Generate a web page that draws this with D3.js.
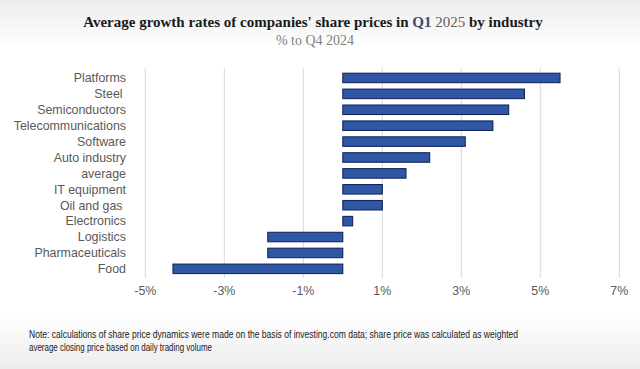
<!DOCTYPE html>
<html>
<head>
<meta charset="utf-8">
<script src="https://cdn.jsdelivr.net/npm/d3@7"></script>
<style>
  body { margin: 0; background: #fff; }
  svg { display: block; }
</style>
</head>
<body>
<svg id="chart" width="640" height="369"></svg>
<script>
const industries = ["Platforms", "Steel ", "Semiconductors", "Telecommunications", "Software", "Auto industry",
  "average", "IT equipment", "Oil and gas ", "Electronics", "Logistics", "Pharmaceuticals", "Food"];
const growth = [5.5, 4.6, 4.2, 3.8, 3.1, 2.2, 1.6, 1.0, 1.0, 0.25, -1.9, -1.9, -4.3];
const tickValues = [-5, -3, -1, 1, 3, 5, 7];

const svg = d3.select("#chart");
const width = +svg.attr("width");
const height = +svg.attr("height");

// background: soft grey fade at top and bottom
const defs = svg.append("defs");
const bg = defs.append("linearGradient").attr("id", "bg").attr("x1", 0).attr("y1", 0).attr("x2", 0).attr("y2", 1);
bg.append("stop").attr("offset", "0%").attr("stop-color", "#ececec");
bg.append("stop").attr("offset", "13%").attr("stop-color", "#ffffff");
bg.append("stop").attr("offset", "85%").attr("stop-color", "#ffffff");
bg.append("stop").attr("offset", "100%").attr("stop-color", "#ececec");
svg.append("rect").attr("width", width).attr("height", height).attr("fill", "url(#bg)");

const x = d3.scaleLinear().domain([-5, 7]).range([145.3, 619.3]);
const y = d3.scaleBand().domain(industries).range([70, 276.8]).paddingInner(0.4).paddingOuter(0.2);

// gridlines
svg.append("g")
  .selectAll("line")
  .data(tickValues)
  .join("line")
  .attr("x1", d => x(d)).attr("x2", d => x(d))
  .attr("y1", 68).attr("y2", 278)
  .attr("stroke", "#d9d9d9")
  .attr("stroke-width", 1);

// bars
svg.append("g")
  .selectAll("rect")
  .data(industries)
  .join("rect")
  .attr("x", (d, i) => x(Math.min(0, growth[i])))
  .attr("y", d => y(d))
  .attr("width", (d, i) => Math.abs(x(growth[i]) - x(0)))
  .attr("height", y.bandwidth())
  .attr("fill", "#3056a6")
  .attr("stroke", "#0e1f4f")
  .attr("stroke-width", 1);

// category labels
svg.append("g")
  .selectAll("text")
  .data(industries)
  .join("text")
  .attr("x", 126)
  .attr("y", d => y(d) + y.bandwidth() / 2)
  .attr("dy", "0.35em")
  .attr("text-anchor", "end")
  .attr("font-family", "Liberation Sans, Arial, sans-serif")
  .attr("font-size", 12.4)
  .attr("fill", "#595959")
  .style("white-space", "pre")
  .text(d => d);

// x tick labels
svg.append("g")
  .selectAll("text")
  .data(tickValues)
  .join("text")
  .attr("x", d => x(d))
  .attr("y", 295)
  .attr("text-anchor", "middle")
  .attr("font-family", "Liberation Sans, Arial, sans-serif")
  .attr("font-size", 12.4)
  .attr("fill", "#595959")
  .text(d => `${d}%`);

// title
const title = svg.append("text")
  .attr("x", 313).attr("y", 27)
  .attr("text-anchor", "middle")
  .attr("font-family", "Liberation Serif, DejaVu Serif, serif")
  .attr("font-size", 15)
  .attr("font-weight", "bold")
  .attr("fill", "#1a1a1a");
title.append("tspan").text("Average growth rates of companies' share prices in ");
title.append("tspan").attr("fill", "#3a4d68").text("Q1");
title.append("tspan").attr("fill", "#5e5e5e").attr("font-weight", "normal").text(" 2025");
title.append("tspan").text(" by industry");

svg.append("text")
  .attr("x", 315).attr("y", 45)
  .attr("text-anchor", "middle")
  .attr("font-family", "Liberation Serif, DejaVu Serif, serif")
  .attr("font-size", 14)
  .attr("fill", "#7f7f7f")
  .text("% to Q4 2024");

// note
const note = [
  "Note: calculations of share price dynamics were made on the basis of investing.com data; share price was calculated as weighted",
  "average closing price based on daily trading volume"
];
const noteLen = [489, 183];
svg.append("g")
  .selectAll("text")
  .data(note)
  .join("text")
  .attr("x", 29)
  .attr("y", (d, i) => 338 + i * 13)
  .attr("font-family", "Liberation Sans, Arial, sans-serif")
  .attr("font-size", 10.2)
  .attr("fill", "#1a1a1a")
  .attr("textLength", (d, i) => noteLen[i])
  .attr("lengthAdjust", "spacingAndGlyphs")
  .text(d => d);
</script>
</body>
</html>
